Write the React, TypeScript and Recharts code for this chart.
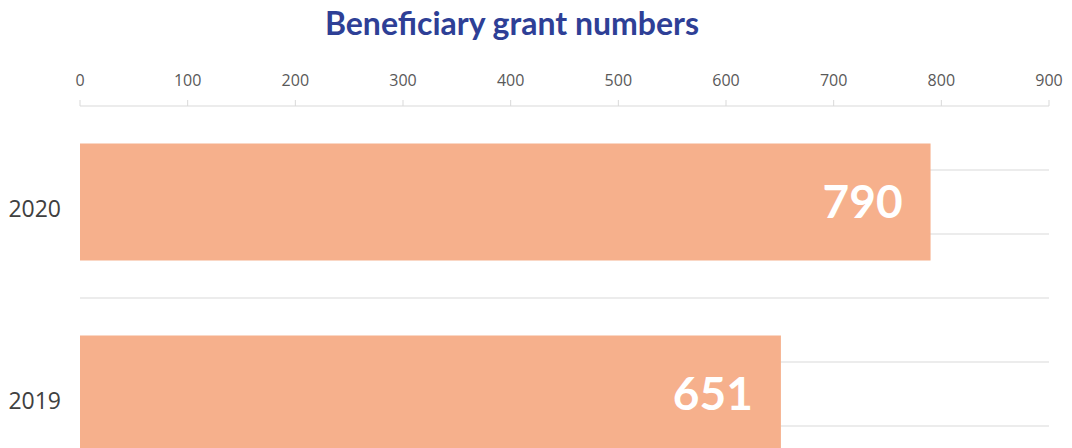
import React from 'react';
import { BarChart, Bar, XAxis, YAxis, CartesianGrid, LabelList } from 'recharts';

const years = ['2020', '2019'];
const grants = [790, 651];
const xTicks = [0, 100, 200, 300, 400, 500, 600, 700, 800, 900];

const data = years.map((year, i) => ({ year, grants: grants[i] }));

// light rules every third of a category band, like the source sheet
const gridRows = ({ offset }: any) => {
  const rows: number[] = [];
  for (let k = 1; k <= 6; k++) rows.push(offset.top + (k * offset.height) / 6);
  return rows;
};

const App: React.FC = () => {
  return (
    <div style={{ position: 'relative', width: 1072, height: 448, overflow: 'hidden', fontFamily: 'Lato, sans-serif' }}>
      <style>{'body{margin:0;overflow:hidden}'}</style>
      <div
        style={{
          position: 'absolute',
          top: 3,
          left: 0,
          width: 1024,
          textAlign: 'center',
          fontSize: 32,
          fontWeight: 700,
          color: '#2e3f96',
          fontFamily: 'Lato, sans-serif',
        }}
      >
        Beneficiary grant numbers
      </div>
      <BarChart
        width={1072}
        height={500}
        data={data}
        layout="vertical"
        margin={{ top: 0, right: 23, bottom: 10, left: 0 }}
        barCategoryGap="19.5%"
      >
        <CartesianGrid vertical={false} stroke="#d9d9d9" horizontalCoordinatesGenerator={gridRows} />
        <XAxis
          type="number"
          orientation="top"
          domain={[0, 900]}
          ticks={xTicks}
          height={106}
          tickMargin={14}
          stroke="#d9d9d9"
          tick={{ fill: '#595959', fontSize: 16, fontFamily: 'Open Sans, sans-serif' }}
        />
        <YAxis
          type="category"
          dataKey="year"
          width={80}
          axisLine={false}
          tickLine={false}
          tickSize={0}
          tickMargin={19}
          tick={{ fill: '#404040', fontSize: 23, fontFamily: 'Open Sans, sans-serif', dy: 7 }}
        />
        <Bar dataKey="grants" fill="#f6b08c" isAnimationActive={false}>
          <LabelList
            dataKey="grants"
            position="insideRight"
            offset={28}
            fill="#ffffff"
            style={{ fontSize: 46, fontWeight: 700, fontFamily: 'Lato, sans-serif' }}
          />
        </Bar>
      </BarChart>
    </div>
  );
};

export default App;
